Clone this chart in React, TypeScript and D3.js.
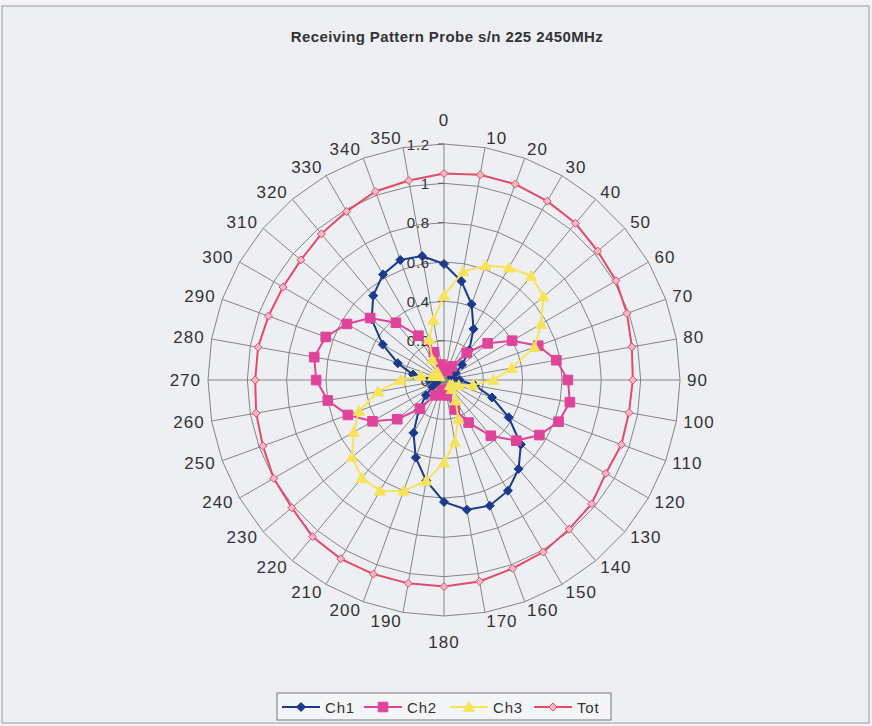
import React from "react";
import * as d3 from "d3";

const angles = [0, 10, 20, 30, 40, 50, 60, 70, 80, 90, 100, 110, 120, 130, 140, 150, 160, 170, 180, 190, 200, 210, 220, 230, 240, 250, 260, 270, 280, 290, 300, 310, 320, 330, 340, 350];
const angleLabels = ["0", "10", "20", "30", "40", "50", "60", "70", "80", "90", "100", "110", "120", "130", "140", "150", "160", "170", "180", "190", "200", "210", "220", "230", "240", "250", "260", "270", "280", "290", "300", "310", "320", "330", "340", "350"];
const radialTicks = [0, 0.2, 0.4, 0.6, 0.8, 1, 1.2];
const radialTickLabels = ["0", "0.2", "0.4", "0.6", "0.8", "1", "1.2"];

const ch1 = [0.59, 0.51, 0.41, 0.30, 0.20, 0.12, 0.07, 0.04, 0.05, 0.08, 0.16, 0.26, 0.38, 0.51, 0.59, 0.65, 0.68, 0.67, 0.62, 0.52, 0.42, 0.31, 0.20, 0.12, 0.07, 0.04, 0.04, 0.08, 0.16, 0.25, 0.36, 0.48, 0.56, 0.62, 0.65, 0.64];
const ch2 = [0.06, 0.05, 0.05, 0.08, 0.18, 0.29, 0.40, 0.51, 0.58, 0.63, 0.65, 0.62, 0.56, 0.48, 0.37, 0.25, 0.16, 0.08, 0.05, 0.06, 0.08, 0.09, 0.19, 0.31, 0.42, 0.52, 0.60, 0.65, 0.67, 0.64, 0.57, 0.49, 0.38, 0.26, 0.15, 0.08];
const ch3 = [0.43, 0.56, 0.62, 0.66, 0.69, 0.66, 0.57, 0.49, 0.35, 0.25, 0.15, 0.08, 0.05, 0.04, 0.06, 0.12, 0.21, 0.32, 0.42, 0.52, 0.60, 0.65, 0.65, 0.61, 0.53, 0.46, 0.34, 0.22, 0.12, 0.06, 0.04, 0.03, 0.05, 0.12, 0.22, 0.31];
const tot = [1.05, 1.06, 1.06, 1.05, 1.04, 1.02, 1.01, 0.99, 0.97, 0.96, 0.955, 0.96, 0.95, 0.98, 0.99, 1.01, 1.02, 1.04, 1.05, 1.05, 1.05, 1.05, 1.04, 1.01, 1.0, 0.98, 0.97, 0.96, 0.96, 0.95, 0.945, 0.95, 0.97, 0.99, 1.02, 1.03];

const seriesNames = ["Ch1", "Ch2", "Ch3", "Tot"];
const titleText = "Receiving Pattern Probe s/n 225 2450MHz";

const W = 872, H = 726;
const cx = 444, cy = 380, R = 236;
const FONT = "'Liberation Sans', Arial, sans-serif";

const styles = [
  { color: "#1c3a8c", marker: "diamond", fill: "#1c3a8c", size: 4.5 },
  { color: "#e0449a", marker: "square", fill: "#e0449a", size: 4.8 },
  { color: "#f7e35a", marker: "triangle", fill: "#f7e35a", size: 5.5 },
  { color: "#e34a6a", marker: "diamond", fill: "#f5b9c6", size: 4 },
];

function markerPath(kind: string, s: number) {
  if (kind === "diamond") return `M0,${-s}L${s},0L0,${s}L${-s},0Z`;
  if (kind === "square") return `M${-s},${-s}H${s}V${s}H${-s}Z`;
  return `M0,${-s}L${s},${s * 0.8}L${-s},${s * 0.8}Z`;
}

export default function App() {
  const r = d3.scaleLinear().domain([0, 1.2]).range([0, R]);
  const a = d3.scaleLinear().domain([0, 360]).range([0, 2 * Math.PI]);
  const data = [ch1, ch2, ch3, tot];

  const seriesLine = d3
    .lineRadial<number>()
    .angle((_d, i) => a(angles[i]))
    .radius((d) => r(d))
    .curve(d3.curveLinearClosed);

  const ringPath = (v: number) =>
    d3
      .lineRadial<number>()
      .angle((d) => a(d))
      .radius(() => r(v))
      .curve(d3.curveLinearClosed)(angles) as string;

  const legendX = [282, 364, 450, 534];

  return (
    <svg
      width={W}
      height={H}
      style={{ position: "absolute", left: 0, top: 0, background: "#f2f3f6" }}
      fontFamily={FONT}
    >
      <rect x={2} y={6} width={867} height={717} fill="#edeff3" stroke="#9a9a9a" strokeWidth={1} />
      <text
        x={447}
        y={36}
        textAnchor="middle"
        dominantBaseline="central"
        fontSize={15}
        fontWeight="bold"
        letterSpacing={0.4}
        fill="#333"
      >
        {titleText}
      </text>

      <g transform={`translate(${cx},${cy})`}>
        {radialTicks.slice(1).map((v) => (
          <path key={"ring" + v} d={ringPath(v)} fill="none" stroke="#858585" strokeWidth={1} />
        ))}
        {angles.map((ang) => {
          const [x, y] = d3.pointRadial(a(ang), R);
          return <line key={"sp" + ang} x1={0} y1={0} x2={x} y2={y} stroke="#858585" strokeWidth={1} />;
        })}
        {radialTicks.map((v) => (
          <line key={"tk" + v} x1={-6} x2={0} y1={-r(v)} y2={-r(v)} stroke="#555" strokeWidth={1} />
        ))}
        {radialTicks.map((v, i) => (
          <text
            key={"rl" + v}
            x={-14}
            y={-r(v)}
            textAnchor="end"
            dominantBaseline="central"
            fontSize={15}
            letterSpacing={0.8}
            fill="#333"
          >
            {radialTickLabels[i]}
          </text>
        ))}
        {angles.map((ang, i) => {
          let x: number, y: number, anchor: string;
          if (ang === 0) {
            x = 0; y = -R - 24; anchor = "middle";
          } else if (ang === 180) {
            x = 0; y = R + 26; anchor = "middle";
          } else {
            const p = d3.pointRadial(a(ang), R + 7);
            x = p[0];
            y = p[1] - Math.cos(a(ang)) * 2;
            anchor = ang < 180 ? "start" : "end";
          }
          return (
            <text
              key={"al" + ang}
              x={x}
              y={y}
              textAnchor={anchor}
              dominantBaseline="central"
              fontSize={17}
              letterSpacing={1}
              fill="#333"
            >
              {angleLabels[i]}
            </text>
          );
        })}

        {data.map((vals, si) => (
          <g key={"s" + si}>
            <path d={seriesLine(vals) as string} fill="none" stroke={styles[si].color} strokeWidth={2} />
            {vals.map((v, i) => {
              const [x, y] = d3.pointRadial(a(angles[i]), r(v));
              return (
                <path
                  key={i}
                  d={markerPath(styles[si].marker, styles[si].size)}
                  transform={`translate(${x},${y})`}
                  fill={styles[si].fill}
                  stroke={styles[si].color}
                  strokeWidth={1}
                />
              );
            })}
          </g>
        ))}
      </g>

      <rect x={277} y={693} width={334} height={27} fill="#f4f5f7" stroke="#777" strokeWidth={1} />
      {seriesNames.map((name, si) => {
        const lx = legendX[si];
        return (
          <g key={"lg" + si}>
            <line x1={lx} x2={lx + 38} y1={707} y2={707} stroke={styles[si].color} strokeWidth={2} />
            <path
              d={markerPath(styles[si].marker, styles[si].size)}
              transform={`translate(${lx + 19},707)`}
              fill={styles[si].fill}
              stroke={styles[si].color}
              strokeWidth={1}
            />
            <text x={lx + 43} y={707} dominantBaseline="central" fontSize={15} letterSpacing={0.8} fill="#333">
              {name}
            </text>
          </g>
        );
      })}
    </svg>
  );
}
